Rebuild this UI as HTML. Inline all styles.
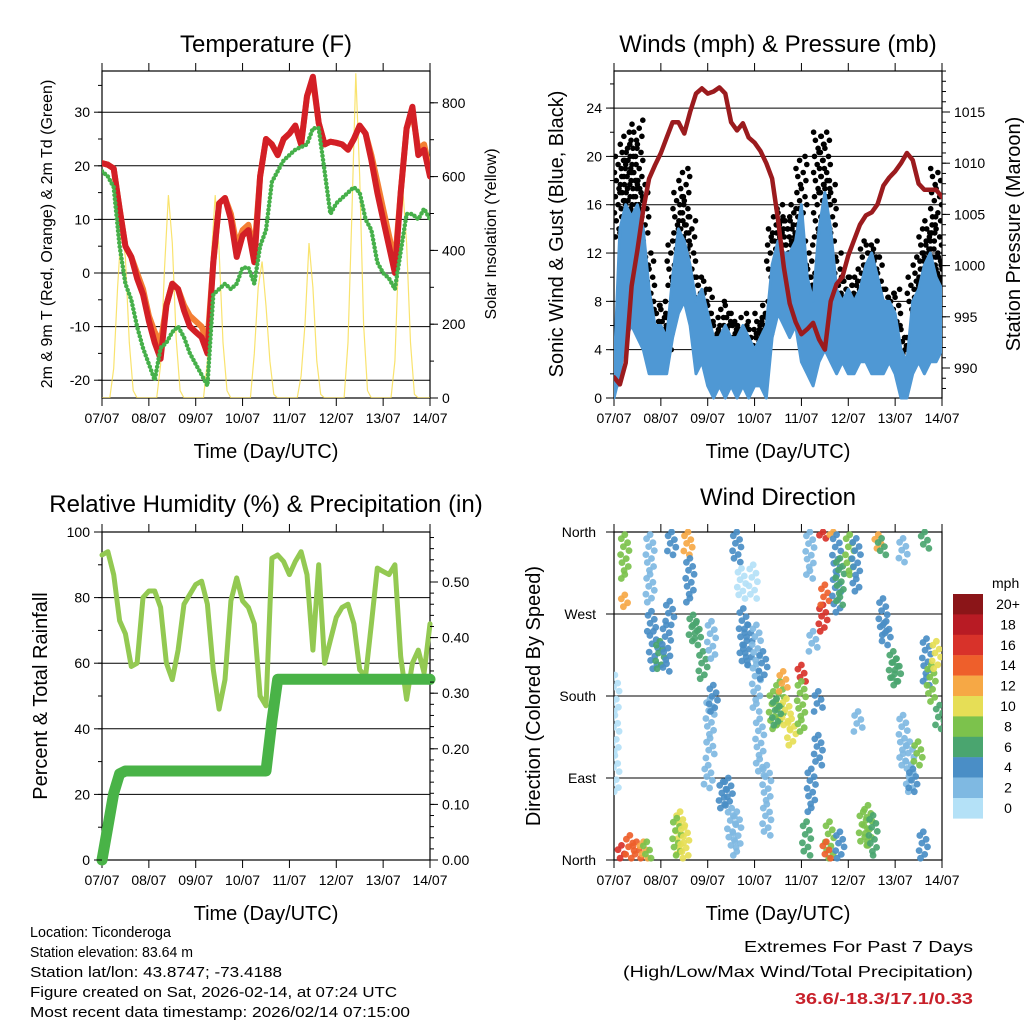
<!DOCTYPE html>
<html><head><meta charset="utf-8"><style>
html,body{margin:0;padding:0;background:#fff;}
svg{display:block;font-family:"Liberation Sans",Arial,sans-serif;}
</style></head><body>
<svg id="s" width="1024" height="1024" viewBox="0 0 1024 1024" xmlns="http://www.w3.org/2000/svg">
<rect width="1024" height="1024" fill="#fff"/>
</svg>
<script>
// ---------- DATA (3-hour samples, 57 per series, day 0..7) ----------
const dayLabels = ["07/07","08/07","09/07","10/07","11/07","12/07","13/07","14/07"];
const tempRed = [20.5,20.2,19.5,12,5,3,-1,-4,-9,-13,-16,-6,-2,-3,-7,-10,-11,-12,-15,2,13,14,10,3,7,8,2,18,25,24,22,25,26,27.5,24,33,36.6,28,24,24.5,24.3,24,23,25,27.5,26,21,15,10,5,0,15,27,31,22,23,18];
const tempOrange = [20.5,20.2,19.5,12,5,3,0,-3,-8,-11,-13,-6,-2,-3,-6,-8,-9,-10,-13,2,13,14,11,5,8,9,4,18,25,24,22,25,26,27.5,24,33,36,28,24,24.5,24.3,24,23,25,27.5,26,22,17,12,7,2,15,27,30,23,24,19];
const tempGreen = [19,18,16,5,-2,-5,-10,-14,-17,-20,-14,-13,-11,-10,-12,-15,-17,-19,-21,-4,-3,-2,-3,-2,1,1,-2,5,8,17,19,21,22,23,23.5,24,27,27,19,11,13,14,15,16,15,10,8,2,0,-1,-3,4,11,11,10,12,10];
// Solar insolation, 2-hour samples (85 values)
const solar = [0,0,0,80,300,470,380,150,20,0,0,0, 0,0,0,90,350,550,420,160,20,0,0,0, 0,0,0,100,380,550,400,150,20,0,0,0, 0,0,0,120,300,370,250,100,10,0,0,0, 0,0,0,60,200,420,300,100,10,0,0,0, 0,0,0,150,500,880,600,200,20,0,0,0, 0,0,0,100,400,570,420,150,10,0,0,0, 0];
const pressure = [989.1,988.4,990.5,998,1001.5,1005.5,1008.5,1009.8,1011,1012.5,1014,1014,1012.9,1015,1016.8,1017.3,1016.8,1017,1017.4,1016.8,1014,1013.2,1013.9,1012.5,1012,1011.2,1010,1008.5,1004.5,999.8,996.3,994.5,993.3,993.8,994.4,992.8,991.8,996.5,998.2,998.9,1001,1002.5,1004,1004.9,1005.2,1006,1007.8,1008.6,1009.2,1010,1011,1010.3,1008,1007.4,1007.4,1007.4,1006.7];
const windLo = [0,2,5,6,5,4,2,2,2,2,5,7,8,6,2,3,1,0,1,0,1,0,1,0,1,1,0,5,7,6,5,6,3,2,1,3,4,3,2,3,2,2,3,3,2,2,2,3,2,0,0,2,3,2,3,3,4];
const windHi = [2,14,16,15,16,14,9,6,6,5,10,14,13,11,8,9,7,5,5,6,5,5,6,5,4,5,6,11,13,12,12,13,16,10,8,14,17,14,9,8,9,8,9,11,12,10,8,8,7,4,3,8,9,11,12,10,9];
const gust = [3,20,22,21,23,18,12,8,8,7,13,17,19,15,10,10,9,7,6,8,7,6,7,6,6,7,8,14,16,15,15,16,20,13,11,22,22,18,12,10,10,10,11,13,13,12,9,9,9,6,5,10,12,14,15,19,12];
const rh = [93,94,87,73,69,59,60,80,82,82,77,60,55,64,78,81,84,85,78,58,46,55,79,86,79,77,72,50,47,92,93,91,87,91,94,87,64,90,60,67,74,77,78,72,58,56,72,89,88,87,90,62,49,60,64,57,72];
const precip = [0,0.06,0.12,0.155,0.16,0.16,0.16,0.16,0.16,0.16,0.16,0.16,0.16,0.16,0.16,0.16,0.16,0.16,0.16,0.16,0.16,0.16,0.16,0.16,0.16,0.16,0.16,0.16,0.16,0.25,0.325,0.325,0.325,0.325,0.325,0.325,0.325,0.325,0.325,0.325,0.325,0.325,0.325,0.325,0.325,0.325,0.325,0.325,0.325,0.325,0.325,0.325,0.325,0.325,0.325,0.325,0.325];
// Wind direction streaks: day, dirLow (deg), dirHigh (deg), speed (mph)
const dirDay = [0.23,0.23,0.77,1.23,1.58,1.62,0.84,0.98,1.12,0.8,1.19,1.69,1.76,1.9,2.08,2.05,2.12,2.01,2.33,2.44,2.51,2.62,2.62,2.72,2.76,2.86,2.97,3.04,3.18,3.11,3.26,3.4,3.54,3.68,3.79,3.47,3.61,4.0,4.0,4.18,4.25,4.36,4.36,4.21,4.11,4.46,4.46,4.5,4.68,4.75,4.82,5.03,4.6,4.53,4.82,5.17,5.21,5.32,5.42,5.53,5.64,5.71,5.74,5.81,5.96,6.03,6.17,6.63,6.17,6.31,6.38,6.49,6.6,6.67,6.77,6.88,6.95,0.02,0.16,0.34,0.48,0.63,0.7,1.41,1.34,1.51];
const dirLow = [309,278,283,335,335,283,210,210,207,251,258,243,236,199,221,112,163,79,57,60,16,5,327,287,214,214,287,163,199,93,27,144,148,144,126,148,185,196,141,309,229,163,104,53,5,353,251,280,357,272,280,313,2,2,2,295,141,16,16,5,342,335,247,236,196,192,327,342,104,75,75,104,2,192,174,210,144,75,2,2,2,2,2,2,5,5];
const dirHigh = [357,291,357,360,360,331,251,240,258,273,284,269,262,229,262,177,192,104,86,90,57,53,360,320,276,258,324,258,229,155,104,185,196,177,155,177,207,214,196,360,251,185,137,100,42,360,280,302,360,357,331,357,42,20,31,353,163,53,60,49,357,353,287,262,229,221,353,360,159,130,100,130,31,243,214,240,170,203,16,27,20,20,20,53,46,38];
const dirSpeed = [8,13,3,4,12,4,5,6,4,4,4,6,6,7,2,2,4,2,4,4,2,2,4,1,4,4,1,2,4,2,2,8,9,10,10,6,12,16,8,2,2,5,5,4,6,17,16,14,13,5,6,8,8,15,4,4,2,8,8,7,12,7,4,4,6,7,2,6,2,3,4,8,4,5,8,10,7,1,17,15,14,13,8,10,8,10];
const cbLabels = ["20+","18","16","14","12","10","8","6","4","2","0"];
const cbColors = ["#8b1518","#b81b24","#d8322a","#ee5f2b","#f6a845","#e6de56","#7cc24c","#4aa56f","#4a8ec6","#7fb9e2","#b4e1f7"];

// ---------- HELPERS ----------
const S = document.getElementById('s');
const NS = "http://www.w3.org/2000/svg";
function mk(tag, attrs, parent){ const e=document.createElementNS(NS,tag); for(const k in attrs) e.setAttribute(k,attrs[k]); (parent||S).appendChild(e); return e; }
function txt(str, x, y, size, anchor, parent, extra){ const t=mk('text',Object.assign({x:x,y:y,'font-size':size,'text-anchor':anchor||'middle',fill:'#000'},extra||{}),parent); t.textContent=str; return t; }
function speedColor(v){ let idx=Math.min(10,Math.floor(v/2)); return cbColors[10-idx]; }
const jit=[0,-2.5,2,-1,3,-3,1,-2,2.5,-0.5];

function panel(name, L, R, T, B){
  const g = mk('g',{});  
  return {g:g, L:L, R:R, T:T, B:B, x:function(d){return L + d*(R-L)/7;}};
}
function frame(p, gridYs){
  gridYs.forEach(y=>{ const l=mk('line',{x1:p.L,x2:p.R,y1:y,y2:y,stroke:'#000','stroke-width':1},p.g);   });
  const r=mk('rect',{x:p.L,y:p.T,width:p.R-p.L,height:p.B-p.T,fill:'none',stroke:'#000','stroke-width':1.2},p.g);
   
  for(let d=0; d<=7; d++){
    const x=p.x(d);
    mk('line',{x1:x,x2:x,y1:p.T,y2:p.T-8,stroke:'#000','stroke-width':1},p.g);
    mk('line',{x1:x,x2:x,y1:p.B,y2:p.B+8,stroke:'#000','stroke-width':1},p.g);
    const t=txt(dayLabels[d], x, p.B+25, 14, 'middle', p.g);
     
  }
  const xt=txt('Time (Day/UTC)', (p.L+p.R)/2, p.B+60, 20, 'middle', p.g);
   
}
function yAxis(p, side, vals, labels, yf, minorStep, vmin, vmax){
  const x0 = side==='left'?p.L:p.R, dir = side==='left'?-1:1;
  vals.forEach((v,i)=>{ const y=yf(v);
    mk('line',{x1:x0,x2:x0+dir*8,y1:y,y2:y,stroke:'#000','stroke-width':1},p.g);
    const t=txt(labels[i], x0+dir*12, y+5, 14, side==='left'?'end':'start', p.g);
     
  });
  if(minorStep){ for(let v=Math.ceil(vmin/minorStep)*minorStep; v<=vmax; v+=minorStep){ const y=yf(v); if(y<p.T||y>p.B) continue; mk('line',{x1:x0,x2:x0+dir*4,y1:y,y2:y,stroke:'#000','stroke-width':1},p.g);} }
}
function pts(arr, xf, yf, step){ return arr.map((v,i)=> xf(i*step).toFixed(1)+','+yf(v).toFixed(1)).join(' '); }
function rotTitle(str, x, y, size, parent, name){ const t=txt(str,x,y,size,'middle',parent,{transform:'rotate(-90 '+x+' '+y+')'});   return t; }
function title(str,x,y,parent){ const t=txt(str,x,y,24,'middle',parent);   }

// ---------- PANEL 1: TEMPERATURE ----------
(function(){
  const p = panel('temperature-panel',102,430,71,398);
  const yT = v=>273 - v*5.36, yS = v=>398 - v*0.369;
  const clip = mk('clipPath',{id:'c1'},p.g); mk('rect',{x:p.L,y:p.T,width:p.R-p.L,height:p.B-p.T},clip);
  frame(p,[30,20,10,0,-10,-20].map(yT));
  const d = mk('g',{'clip-path':'url(#c1)'},p.g);
  const sl=mk('polyline',{points:pts(solar,p.x,yS,1/12),fill:'none',stroke:'#f7dc4a','stroke-width':1.2,opacity:0.8},d);
   
  const o=mk('polyline',{points:pts(tempOrange,p.x,yT,1/8),fill:'none',stroke:'#f47f34','stroke-width':6,'stroke-linejoin':'round','stroke-linecap':'round'},d);
   
  const r=mk('polyline',{points:pts(tempRed,p.x,yT,1/8),fill:'none',stroke:'#d31f26','stroke-width':6,'stroke-linejoin':'round','stroke-linecap':'round'},d);
   
  const gr=mk('polyline',{points:pts(tempGreen,p.x,yT,1/8),fill:'none',stroke:'#46b04a','stroke-width':4.5,'stroke-dasharray':'0 4','stroke-linecap':'round','stroke-linejoin':'round'},d);
   
  yAxis(p,'left',[30,20,10,0,-10,-20],['30','20','10','0','-10','-20'],yT,5,-24,38);
  yAxis(p,'right',[0,200,400,600,800],['0','200','400','600','800'],yS,100,0,880);
  title('Temperature (F)',266,52,p.g);
  rotTitle('2m & 9m T (Red, Orange) & 2m Td (Green)',52,234,16,p.g,'left-y-axis-title');
  rotTitle('Solar Insolation (Yellow)',496,234,16,p.g,'right-y-axis-title');
})();

// ---------- PANEL 2: WINDS & PRESSURE ----------
(function(){
  const p = panel('winds-pressure-panel',614,942,71,398);
  const yW = v=>398 - v*12.08, yP = v=>368 - (v-990)*10.24;
  const clip = mk('clipPath',{id:'c2'},p.g); mk('rect',{x:p.L,y:p.T-6,width:p.R-p.L,height:p.B-p.T+8},clip);
  frame(p,[0,4,8,12,16,20,24].map(yW));
  const d = mk('g',{'clip-path':'url(#c2)'},p.g);
  const st=1/8;
  // gust dots: columns from wind top up to gust
  gust.forEach((v,i)=>{
    const yTop=yW(v), yBot=yW(windHi[i]-1), x=p.x(i*st);
    const n=Math.max(1,Math.round((yBot-yTop)/4));
    for(let k=0;k<=n;k++){
      const c=mk('circle',{cx:(x+jit[(i+k)%10]*1.8).toFixed(1),cy:(yTop+(yBot-yTop)*k/n).toFixed(1),r:2.8,fill:'#000'},d);
       
    }
  });
  // wind band
  let top = windHi.map((v,i)=>p.x(i*st).toFixed(1)+','+yW(v).toFixed(1));
  let bot = windLo.map((v,i)=>p.x(i*st).toFixed(1)+','+yW(v).toFixed(1)).reverse();
  const wb=mk('polygon',{points:top.concat(bot).join(' '),fill:'#4f98d4',stroke:'#4f98d4','stroke-width':3,'stroke-linejoin':'round'},d);
   
  const pl=mk('polyline',{points:pts(pressure,p.x,yP,st),fill:'none',stroke:'#9b1b1e','stroke-width':4.5,'stroke-linejoin':'round','stroke-linecap':'round'},d);
   
  yAxis(p,'left',[0,4,8,12,16,20,24],['0','4','8','12','16','20','24'],yW,2,0,27);
  yAxis(p,'right',[990,995,1000,1005,1010,1015],['990','995','1000','1005','1010','1015'],yP,1,987,1019);
  title('Winds (mph) & Pressure (mb)',778,52,p.g);
  rotTitle('Sonic Wind & Gust (Blue, Black)',563,234,20,p.g,'left-y-axis-title');
  rotTitle('Station Pressure (Maroon)',1020,234,20,p.g,'right-y-axis-title');
})();

// ---------- PANEL 3: RH & PRECIP ----------
(function(){
  const p = panel('humidity-precip-panel',102,430,532,860);
  const yR = v=>860 - v*3.28, yQ = v=>860 - v*556;
  const clip = mk('clipPath',{id:'c3'},p.g); mk('rect',{x:p.L-8,y:p.T,width:p.R-p.L+16,height:p.B-p.T+8},clip);
  frame(p,[0,20,40,60,80,100].map(yR));
  const d = mk('g',{'clip-path':'url(#c3)'},p.g);
  const r=mk('polyline',{points:pts(rh,p.x,yR,1/8),fill:'none',stroke:'#93c952','stroke-width':5,'stroke-linejoin':'round','stroke-linecap':'round'},d);
   
  const q=mk('polyline',{points:pts(precip,p.x,yQ,1/8),fill:'none',stroke:'#49b347','stroke-width':11,'stroke-linejoin':'round','stroke-linecap':'round'},d);
   
  yAxis(p,'left',[0,20,40,60,80,100],['0','20','40','60','80','100'],yR,10,0,100);
  yAxis(p,'right',[0,0.1,0.2,0.3,0.4,0.5],['0.00','0.10','0.20','0.30','0.40','0.50'],yQ,0.02,0,0.59);
  title('Relative Humidity (%) & Precipitation (in)',266,512,p.g);
  rotTitle('Percent & Total Rainfall',47,696,20,p.g,'left-y-axis-title');
})();

// ---------- PANEL 4: WIND DIRECTION ----------
(function(){
  const p = panel('wind-direction-panel',614,942,532,860);
  const yD = v=>860 - v*328/360;
  const clip = mk('clipPath',{id:'c4'},p.g); mk('rect',{x:p.L,y:p.T-3,width:p.R-p.L,height:p.B-p.T+6},clip);
  frame(p,[0,90,180,270,360].map(yD));
  const d = mk('g',{'clip-path':'url(#c4)'},p.g);
  dirDay.forEach((day,i)=>{
    const y1=yD(dirHigh[i]), y2=yD(dirLow[i]), x=p.x(day), col=speedColor(dirSpeed[i]);
    const n=Math.max(1,Math.round((y2-y1)/4));
    for(let k=0;k<=n;k++){
      const c=mk('circle',{cx:(x+jit[k%10]*1.4).toFixed(1),cy:(y1+(y2-y1)*k/n).toFixed(1),r:3.4,fill:col,opacity:0.92},d);
       
    }
  });
  const names=['North','East','South','West','North'];
  [0,90,180,270,360].forEach((v,i)=>{ const y=yD(v);
    mk('line',{x1:p.L,x2:p.L-8,y1:y,y2:y,stroke:'#000'},p.g);
    const t=txt(names[i],p.L-18,y+5,14,'end',p.g);  
  });
  title('Wind Direction',778,505,p.g);
  rotTitle('Direction (Colored By Speed)',540,696,20,p.g,'left-y-axis-title');
  const cb=mk('g',{});  
  const t0=txt('mph',992,588,14,'start',cb);  
  cbColors.forEach((c,i)=>{ const y=594+i*20.4;
    const r=mk('rect',{x:953,y:y,width:30,height:20.6,fill:c},cb);  
    const t=txt(cbLabels[i],1008,y+15,14,'middle',cb);  
  });
})();

// ---------- FOOTER ----------
(function(){
  const g=mk('g',{});  
  const lines=['Location: Ticonderoga','Station elevation: 83.64 m','Station lat/lon: 43.8747; -73.4188','Figure created on Sat, 2026-02-14, at 07:24 UTC','Most recent data timestamp: 2026/02/14 07:15:00'];
  const lens=[141,163,252,367,380];
  lines.forEach((s,i)=>{ const t=txt(s,30,937+i*20,14.5,'start',g,{textLength:lens[i],lengthAdjust:'spacingAndGlyphs'});   });
  const e=mk('g',{});  
  const a=txt('Extremes For Past 7 Days',973,952,16,'end',e,{textLength:229,lengthAdjust:'spacingAndGlyphs'});  
  const b=txt('(High/Low/Max Wind/Total Precipitation)',973,977,16,'end',e,{textLength:350,lengthAdjust:'spacingAndGlyphs'});  
  const c=txt('36.6/-18.3/17.1/0.33',973,1004,16,'end',e,{fill:'#c8202a','font-weight':'bold',textLength:178,lengthAdjust:'spacingAndGlyphs'});  
})();
</script>
</body></html>
